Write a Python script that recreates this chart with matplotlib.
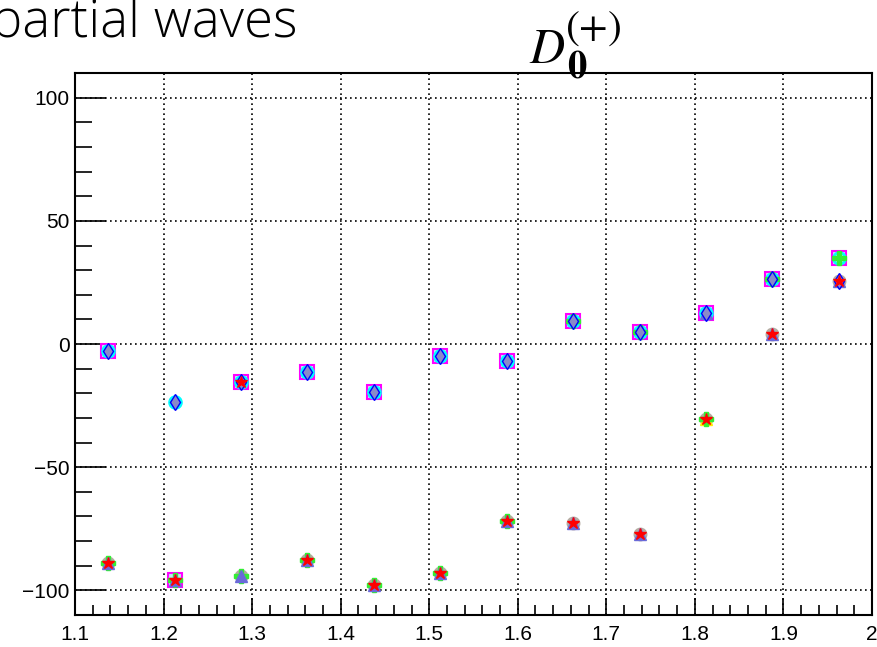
import numpy as np
import matplotlib
matplotlib.use("Agg")
from matplotlib import pyplot as plt
from matplotlib.ticker import MultipleLocator

# energy bins
W = [1.1375, 1.2125, 1.2875, 1.3625, 1.4375, 1.5125, 1.5875, 1.6625, 1.7375, 1.8125, 1.8875, 1.9625]

# upper family of solutions
sq_mag = [-2.8, -96, -15.5, -11.5, -19.5, -5, -7, 9.5, 5, 12.5, 26.5, 35]
tri_yel = [-2.8, -96, -15.5, -11.5, -19.5, -5, -7, 9.5, 5, -30.5, 26.5, 35]
circ_cyan = [-2.8, -23.5, -15.5, -11.5, -19.5, -5, -7, 9.5, 5, 12.5, 26.5, 35]
diam_blue = [-2.8, -23.5, -15.5, -11.5, -19.5, -5, -7, 9.5, 5, 12.5, 26.5, 25.5]

# lower family of solutions
circ_gray = [-89, -96, -94, -87.5, -98, -93, -72, -72.5, -77, -30.5, 4, 25.5]
plus_green = [-89, -96, -94, -87.5, -98, -93, -72, 9.5, 5, -30.5, 26.5, 35]
tri_blue = [-89, -96, -94, -87.5, -98, -93, -72, -72.5, -77, 12.5, 4, 25.5]
star_red = [-89, -96, -15.5, -87.5, -98, -93, -72, -72.5, -77, -30.5, 4, 25.5]

plt.rcParams['font.family'] = ['Liberation Sans', 'DejaVu Sans']

fig = plt.figure(figsize=(8.77, 6.47), dpi=100)
ax = fig.add_axes([0.0855, 0.0495, 0.9088, 0.8375])

ax.plot(W, circ_gray, 'o', ms=9, color='#b5aca3', zorder=3)
ax.plot(W, tri_yel, '^', ms=8, color='#ffee00', zorder=3)
ax.plot(W, sq_mag, 's', ms=9.5, mfc='#bfe6f5', mec='magenta', mew=1.5, zorder=3)
ax.plot(W, circ_cyan, 'o', ms=8.5, mfc='none', mec='cyan', mew=2, zorder=4)
ax.plot(W, plus_green, 'P', ms=10, color='#33ee33', zorder=4)
ax.plot(W, tri_blue, '^', ms=8, color='#6a6ad8', zorder=4)
ax.plot(W, diam_blue, 'd', ms=8, mfc='#8a8ac8', mec='blue', mew=1, zorder=5)
ax.plot(W, star_red, '*', ms=9, color='red', zorder=6)

ax.set_xlim(1.1, 2.0)
ax.set_ylim(-110, 110)
ax.xaxis.set_minor_locator(MultipleLocator(0.02))
ax.yaxis.set_major_locator(MultipleLocator(50))
ax.yaxis.set_minor_locator(MultipleLocator(10))
ax.set_xticks(np.arange(1.1, 2.01, 0.1))
ax.set_xticklabels(['1.1', '1.2', '1.3', '1.4', '1.5', '1.6', '1.7', '1.8', '1.9', '2'])
ax.tick_params(axis='x', which='major', length=12, width=1.2, direction='in', labelsize=15, pad=7)
ax.tick_params(axis='x', which='minor', length=7, width=1.2, direction='in')
ax.tick_params(axis='y', which='major', length=22, width=1.2, direction='in', labelsize=15, pad=4)
ax.tick_params(axis='y', which='minor', length=12, width=1.2, direction='in')
ax.grid(True, which='major', color='black', linestyle=(0, (1, 2)), linewidth=1.2)
for s in ax.spines.values():
    s.set_linewidth(1.5)

fig.text(-0.01, 0.943, 'partial waves', fontsize=38, family=['Open Sans', 'DejaVu Sans'],
         fontweight='light', ha='left', va='baseline')

# D_0^(+) built from pieces so the scripts stay large
fig.text(0.603, 0.9026, r'$D$', fontsize=35, math_fontfamily='stix', ha='left', va='baseline')
fig.text(0.646, 0.880, r'$\mathbf{0}$', fontsize=28, math_fontfamily='stix', ha='left', va='baseline')
fig.text(0.644, 0.940, r'$(+)$', fontsize=30, math_fontfamily='stix', ha='left', va='baseline')

fig.savefig('out.png', dpi=100)
